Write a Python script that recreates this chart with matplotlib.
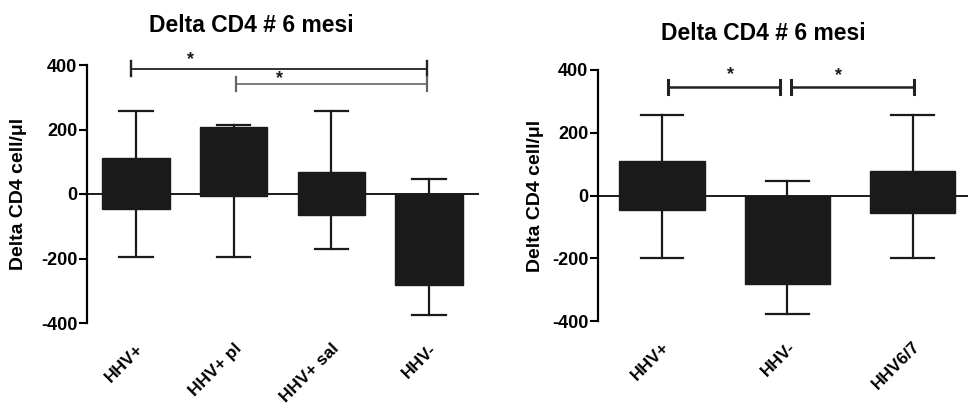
import matplotlib
matplotlib.use("Agg")
import matplotlib.pyplot as plt

plt.rcParams['font.family'] = ['Liberation Sans', 'DejaVu Sans']
plt.rcParams['font.weight'] = 'bold'
plt.rcParams['axes.unicode_minus'] = False

INK = '#1a1a1a'

# left panel: four groups
groups_a = ['HHV+', 'HHV+ pl', 'HHV+ sal', 'HHV-']
q1_a = [-46, -6, -64, -282]
q3_a = [111, 209, 69, 0]
lo_a = [-195, -195, -172, -374]
hi_a = [257, 215, 257, 45]

# right panel: three groups
groups_b = ['HHV+', 'HHV-', 'HHV6/7']
q1_b = [-47, -283, -57]
q3_b = [110, 0, 78]
lo_b = [-198, -377, -198]
hi_b = [258, 46, 258]

# significance bars: (x start, x end, y, star x, star y, line width, colour)
sig_a = [(-0.05, 2.98, 389, 0.56, 418, 1.3, '#222222'),
         (1.02, 2.98, 340, 1.47, 358, 1.2, '#666666')]
sig_b = [(0.05, 0.94, 347, 0.55, 385, 1.8, '#222222'),
         (1.03, 2.01, 347, 1.41, 382, 1.8, '#222222')]

TITLE = 'Delta CD4 # 6 mesi'


def stats(q1, q3, lo, hi):
    # medians are not shown, boxes are solid
    return [dict(q1=a, q3=b, med=a, whislo=c, whishi=d, fliers=[])
            for a, b, c, d in zip(q1, q3, lo, hi)]


def panel(ax, names, q1, q3, lo, hi, width, xlim, sig, ylab_x):
    ax.axhline(0, color=INK, lw=1.4, zorder=1)
    ax.bxp(stats(q1, q3, lo, hi), positions=range(len(names)), widths=width,
           capwidths=width / 2, patch_artist=True, showfliers=False,
           boxprops=dict(facecolor=INK, edgecolor=INK, lw=1),
           medianprops=dict(lw=0),
           whiskerprops=dict(color=INK, lw=1.6),
           capprops=dict(color=INK, lw=1.6))
    ax.set_xlim(*xlim)
    ax.set_ylim(-400, 400)
    ax.set_yticks([-400, -200, 0, 200, 400])
    ax.tick_params(axis='y', length=6, width=1.5, labelsize=13, pad=1)
    ax.tick_params(axis='x', length=0, labelsize=12.5, pad=13)
    ax.set_xticks(range(len(names)))
    ax.set_xticklabels(names, rotation=45, ha='right', va='top',
                       rotation_mode='anchor')
    for s in ['top', 'right', 'bottom']:
        ax.spines[s].set_visible(False)
    ax.spines['left'].set_linewidth(1.6)
    ax.spines['left'].set_bounds(-400, 400)
    ax.set_ylabel('Delta CD4 cell/\u03bcl', fontsize=14, fontweight='bold')
    ax.yaxis.set_label_coords(ylab_x, 0.5)
    for x0, x1, y, sx, sy, lw, c in sig:
        ax.plot([x0, x1], [y, y], color=c, lw=lw, clip_on=False)
        for x in (x0, x1):
            ax.plot([x, x], [y - 22, y + 22], color=c, lw=lw + 0.4,
                    clip_on=False)
        ax.text(sx, sy, '*', ha='center', va='center', fontsize=13,
                color=INK, clip_on=False)


fig = plt.figure(figsize=(9.68, 4.07), dpi=100)
ax1 = fig.add_axes([87 / 968, 1 - 323 / 407, 392 / 968, 258 / 407])
ax2 = fig.add_axes([598 / 968, 1 - 321 / 407, 370 / 968, 251 / 407])

panel(ax1, groups_a, q1_a, q3_a, lo_a, hi_a, 0.69, (-0.5, 3.51), sig_a, -0.152)
panel(ax2, groups_b, q1_b, q3_b, lo_b, hi_b, 0.68, (-0.51, 2.44), sig_b, -0.145)

fig.text(251 / 968, 1 - 25 / 407, TITLE, ha='center', va='center',
         fontsize=16.5, fontweight='bold')
fig.text(763 / 968, 1 - 33 / 407, TITLE, ha='center', va='center',
         fontsize=16.5, fontweight='bold')

fig.savefig('out.png', dpi=100)
